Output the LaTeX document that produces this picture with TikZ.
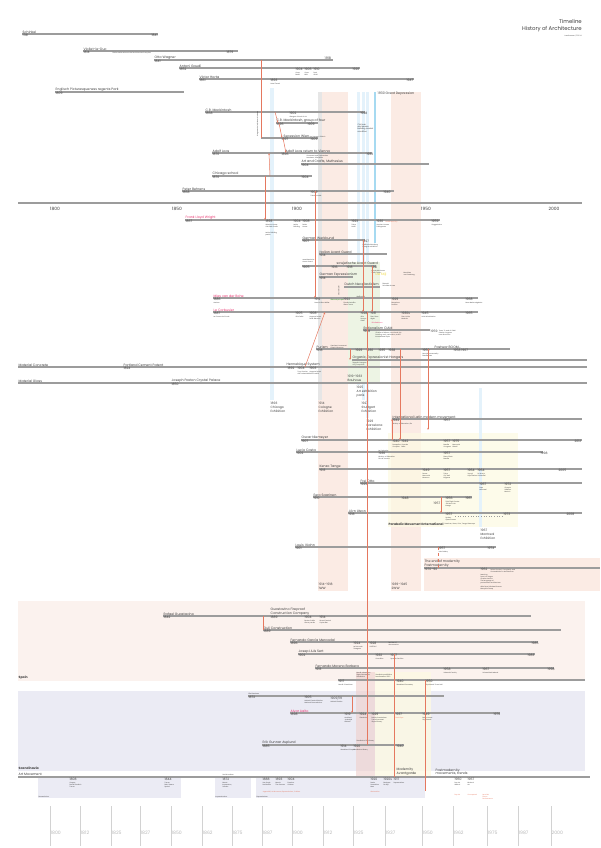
\documentclass[tikz,border=0pt]{standalone}
\usepackage{fontspec}
\setmainfont{Poppins}
\usetikzlibrary{arrows.meta}
\tikzset{>=Stealth}

\definecolor{linegray}{HTML}{9C9C9C}
\definecolor{textgray}{HTML}{3C3C3C}
\definecolor{arrowred}{HTML}{E5785F}
\definecolor{pinkname}{HTML}{E8336E}
\definecolor{peach}{HTML}{FBEBE4}
\definecolor{skyband}{HTML}{E4F2FB}
\definecolor{skyline}{HTML}{A6DAF1}
\definecolor{grayband}{HTML}{E6E6E6}
\definecolor{greenband}{HTML}{EDF4E4}
\definecolor{yellowband}{HTML}{FDF9E3}
\definecolor{yellowtext}{HTML}{EED63A}
\definecolor{spainbg}{HTML}{FBF2EE}
\definecolor{scandbg}{HTML}{EBEBF4}
\definecolor{bandred}{HTML}{EFCFCB}
\definecolor{tickgray}{HTML}{D2D2D2}

\tikzset{
  tl/.style={draw=linegray, line width=1.1pt},
  nm/.style={font=\fontsize{3.3}{3.8}\selectfont, text=textgray, inner sep=0.5pt, anchor=south west},
  pk/.style={nm, text=pinkname},
  yr/.style={font=\fontsize{3.1}{3.5}\selectfont, text=textgray, inner sep=0.5pt, anchor=north west},
  tiny/.style={font=\fontsize{1.6}{1.9}\selectfont, text=textgray, inner sep=0.3pt, anchor=north west, align=left},
  exh/.style={font=\fontsize{3.1}{3.8}\selectfont, text=textgray, inner sep=0.5pt, anchor=north west, align=left},
  sect/.style={font=\bfseries\fontsize{3.1}{3.5}\selectfont, text=textgray, inner sep=0.5pt, anchor=south west},
  conn/.style={draw=arrowred, line width=0.5pt, -{Stealth[length=2.2pt,width=1.6pt]}},
  link/.style={draw=arrowred, line width=0.5pt},
  axisyear/.style={font=\fontsize{4.4}{5}\selectfont, text=textgray, inner sep=0.5pt},
  ticklabel/.style={font=\fontsize{4.6}{5}\selectfont, text=black!28, inner sep=0.5pt, anchor=west},
}

% life line: [style]{id}{x start}{x end}{y}{name}{first year}
\newcommand{\life}[7][nm]{%
  \draw[tl] (#3,#5) -- (#4,#5);
  \coordinate (#2L) at (#3,#5);
  \node[#1] (#2) at (#3,#5) {#6};
  \node[yr] (#2Y) at (#3,#5) {#7};}
% event: {id}{x}{y}{year}{note}
\newcommand{\evn}[5]{%
  \node[yr] (#1) at (#2,#3) {#4};
  \node[tiny] (#1T) at (#1.south west) {#5};}

\begin{document}
\begin{tikzpicture}[x=1pt,y=-1pt]
    \useasboundingbox (0,0) rectangle (600,848);

    % bands
    \fill[peach] (318,92) rectangle (348,591);
    \fill[peach] (391,92) rectangle (421,591);
    \fill[grayband] (318,92) rectangle (322,400);
    \fill[skyband] (270,88) rectangle (274,400);
    \fill[skyband] (357,92) rectangle (360,385);
    \fill[skyband] (362,92) rectangle (365,400);
    \fill[skyband] (366,92) rectangle (369,418);
    \fill[skyline] (374,92) rectangle (376,243);
    \fill[greenband] (348,262) rectangle (380,383);
    \fill[yellowband, opacity=0.75] (388,433) rectangle (518,527);
    \fill[skyband] (479,388) rectangle (482,527);
    \fill[peach] (424,558) rectangle (600,591);
    \fill[spainbg] (18,601) rectangle (585,681);
    \fill[scandbg] (18,691) rectangle (585,771);
    \fill[bandred, opacity=0.6] (356,672) rectangle (375,776);
    \fill[yellowband, opacity=0.8] (375,672) rectangle (431,776);
    \fill[scandbg] (38,777) rectangle (181,798);
    \fill[scandbg] (215,777) rectangle (251,798);
    \fill[scandbg] (256,777) rectangle (425,798);

    % title
    \node[anchor=north east, inner sep=0pt, font=\fontsize{5.4}{6}\selectfont, text=textgray] (title) at (582,19) {Timeline};
    \node[anchor=north east, inner sep=0pt, font=\fontsize{5.4}{6}\selectfont, text=textgray] (subtitle) at (582,26) {History of Architecture};
    \node[tiny, anchor=north east] (author) at (582,35) {Lara Brunner | 17.01.24};

    % before 1900
    \life{schinkel}{22}{158}{34}{Schinkel}{1781}
    \node[yr] (schinkelE) at (151,34) {1841};
    \life{viollet}{83}{238}{51}{Viollet-le-Duc}{1814}
    \node[tiny] (violletT) at (112,52) {Dictionnaire raisonné de l'architecture française};
    \node[yr] (violletE) at (226,51) {1879};
    \life{wagner}{154}{333}{60}{Otto Wagner}{1841}
    \node[nm] (wagnerE) at (324,60) {1918};
    \life{gaudi}{179}{360}{68}{Antoni Gaudí}{1852}
    \evn{gaudiA}{295}{68}{1904}{Casa\\Batlló}
    \evn{gaudiB}{304}{68}{1906}{Casa\\Milà}
    \evn{gaudiC}{313}{68}{1910}{Park\\Güell}
    \node[yr] (gaudiE) at (352,68) {1926};
    \life{horta}{199}{414}{79}{Victor Horta}{1861}
    \evn{hortaA}{270}{79}{1893}{Hotel Tassel}
    \node[yr] (hortaE) at (406,79) {1947};
    \life{regent}{55}{184}{92}{Englisch Picturesqueness regents Park}{1809}
    \node[nm, anchor=north west] (crisis) at (377,91) {1930 Great Depression};
    \node[tiny, font=\fontsize{2}{2.4}\selectfont] (crisisT) at (357,123) {Civil war\\and severe\\building market\\condition};
    \life{mack}{205}{365}{112}{C.R. Mackintosh}{1868}
    \evn{mackA}{289}{112}{1902}{Glasgow School of Art}
    \node[yr] (mackE) at (360,112) {1928};
    \life{four}{276}{318}{123}{C.R. Mackintosh, group of four}{1896}
    \node[yr] (fourE) at (307,123) {1909};
    \draw[tl] (261,138) -- (318,138);
    \coordinate (secessionL) at (261,138);
    \node[nm] (secession) at (283,138) {Secession Wien};
    \node[tiny, anchor=south west] (secessionT) at (309,138) {Ver Sacrum, Olbrich};
    \node[yr] (secessionY) at (281,138) {1897};
    \node[yr] (secessionE) at (310,138) {1909};
    \node[tiny, rotate=90, anchor=south west] (wagnerT) at (259,137) {Wagnerschule, Wiener Moderne};
    \life{loos}{212}{372}{153}{Adolf Loos}{1870}
    \node[nm] (loosR) at (285,153) {Adolf Loos return to Vienna};
    \node[yr] (loosA) at (281,153) {1896};
    \node[tiny] (loosT) at (306,155) {Ornament und Verbrechen\\Looshaus, Villa Müller};
    \node[yr] (loosE) at (366,153) {1933};
    \life{muth}{301}{429}{164}{Art and Crafts, Muthesius}{1904}
    \life{chicago}{212}{312}{176}{Chicago school}{1870}
    \node[yr] (chicagoE) at (301,176) {1904};
    \life{behrens}{182}{394}{191}{Peter Behrens}{1868}
    \evn{behrensA}{310}{191}{1909}{Turbinenhalle}
    \node[yr] (behrensE) at (383,191) {1940};

    % axis
    \draw[draw=linegray, line width=1.5pt] (18,203) -- (582,203);
    \foreach \x/\lab in {55/1800,177/1850,297/1900,426/1950,554/2000}
      \node[axisyear] (ax\lab) at (\x,209) {\lab};

    % 20th century
    \life[pk]{flw}{185}{440}{220}{Frank Lloyd Wright}{1867}
    \evn{flwA}{265}{220}{1893}{Winslow House\\Oak Park Studio}
    \node[tiny] (flwB) at (265,232) {Larkin Building\\prairie};
    \evn{flwC}{293}{220}{1904}{Larkin\\Building}
    \evn{flwD}{302}{220}{1908}{Robie\\House}
    \evn{flwE}{351}{220}{1923}{Tokyo\\Hotel}
    \evn{flwF}{376}{220}{1930}{Usonian Houses\\Fallingwater}
    \node[tiny, text=arrowred] (flwR) at (385,220.6) {Broadacre City};
    \evn{flwG}{431}{220}{1959}{Guggenheim}
    \life{werkbund}{302}{365}{240}{German Werkbund}{1907}
    \evn{werkbundA}{362}{240}{1927}{Weißenhofsiedlung\\Stuttgart exhibition}
    \life{italy}{319}{387}{254}{Italian Avant Guard}{1914}
    \draw[tl] (302,266) -- (376,266);
    \coordinate (sovietL) at (302,266);
    \node[tiny, anchor=south west] (amerika) at (302,263) {amerikanische\\Avant Guard};
    \node[nm] (soviet) at (336,266) {sowjetische Avant Guard};
    \node[yr] (sovietY) at (302,266) {1905};
    \node[yr] (sovietA) at (331,266) {1916};
    \node[yr] (sovietB) at (346,266) {1918};
    \evn{sovietC}{371}{266}{1921}{Konstruktivismus\\Tatlin Tower}
    \life{expr}{319}{353}{277}{German Expressionism}{1914}
    \node[nm, text=yellowtext] (stijl) at (375,277) {De Stijl};
    \node[tiny] (stijlT) at (403,272) {Mondrian\\van Doesburg};
    \node[tiny, rotate=90, anchor=south west] (exprT) at (340,296) {Einsteinturm};
    \life{dutch}{344}{380}{287}{Dutch Neoplasticism}{}
    \node[tiny, anchor=south west] (dutchT) at (382,287) {Rietveld\\Schröder House};
    \life[pk]{mies}{213}{478}{298}{Mies van der Rohe}{1886}
    \node[tiny] (miesT) at (miesY.south west) {Aachen};
    \evn{miesA}{314}{298}{1912}{Haus Kröller-Müller}
    \node[tiny, text=green!50!black] (miesG) at (330,298.6) {Glass skyscraper};
    \evn{miesB}{343}{298}{1922}{Friedrichstraße\\Glass Tower}
    \node[tiny, anchor=south west] (miesW) at (356,298) {Weißenhof};
    \evn{miesD}{391}{298}{1929}{Barcelona\\Pavilion}
    \evn{miesE}{465}{298}{1968}{Neue Nationalgalerie}
    \life[pk]{corbu}{213}{478}{312}{Le Corbusier}{1887}
    \node[tiny] (corbuT) at (corbuY.south west) {La Chaux-de-Fonds};
    \evn{corbuA}{295}{312}{1905}{Villa Fallet}
    \evn{corbuB}{309}{312}{1908}{Auguste Perret\\Peter Behrens}
    \evn{corbuC}{360}{312}{1928}{Villa\\Savoye\\CIAM}
    \evn{corbuD}{370}{312}{1931}{Plan Obus\\Algier}
    \node[tiny, text=pinkname] (corbuR) at (371,322) {Ville Radieuse};
    \evn{corbuE}{401}{312}{1930s}{Plan Voisin\\Modulor}
    \evn{corbuF}{421}{312}{1945}{Unité d'habitation}
    \node[yr] (corbuG) at (465,312) {1965};
    \life{ciam}{363}{430}{330}{Rationalism CIAM}{1928}
    \node[tiny] (ciamN) at (375,332) {Charter of Athens, functional city\\housing, work, recreation, traffic\\International Style};
    \node[yr] (ciamA) at (430,330) {1959};
    \node[tiny] (ciamT) at (ciamA.north east) {Team 10, end of CIAM\\Otterlo congress\\new directions};
    \life{purism}{316}{510}{349}{Purism}{1918}
    \node[tiny, anchor=south west] (purismT) at (330,349) {Ozenfant, Jeanneret\\L'Esprit Nouveau};
    \node[nm] (boom) at (434,349) {Postwar BOOM...};
    \node[yr] (purismA) at (355,349) {1929};
    \node[yr] (purismB) at (366,349) {1930};
    \node[yr] (purismC) at (378,349) {1935};
    \node[yr] (purismD) at (388,349) {1938};
    \evn{purismE}{422}{349}{1950}{New Monumentality\\Brasília plan}
    \node[yr] (purismF) at (453,349) {1958 1967};
    \life{hangar}{352}{587}{360}{Organic, Expressionist Hangars}{}
    \node[tiny] (hangarT) at (352,362) {Zeppelin hangars\\Orly, Freyssinet};
    \life{concrete}{18}{587}{367}{Material Concrete}{}
    \node[nm] (portland) at (123,367) {Portland Cement Patent};
    \node[yr] (portlandY) at (123,367) {1824};
    \node[nm] (henne) at (286,367) {Hennebique System};
    \node[yr] (henneA) at (287,367) {1892};
    \evn{henneB}{297}{367}{1904}{Tony Garnier\\cité industrielle}
    \evn{henneC}{309}{367}{1903}{Auguste Perret\\Rue Franklin}
    \life{glass}{18}{587}{383}{Material Glass}{}
    \node[nm] (paxton) at (171,383) {Joseph Paxton Crystal Palace};
    \node[yr] (paxtonY) at (171,383) {1850};
    \node[exh, anchor=south west] (bauhaus) at (347,382) {1919–1933\\Bauhaus};

    % exhibitions
    \node[exh] (expoChicago) at (270,402) {1893\\Chicago\\Exhibition};
    \node[exh] (expoCologne) at (318,402) {1914\\Cologne\\Exhibition};
    \node[exh] (expoParis) at (356,386) {1925\\Art exhibition\\paris};
    \node[exh] (expoStuttgart) at (361,402) {1927\\Stuttgart\\Exhibition};
    \node[exh] (expoBarcelona) at (366,420) {1929\\Barcelona\\Exhibition};

    \life{latin}{392}{582}{419}{International Latin modern movement}{1942}
    \node[tiny] (latinT) at (latinY.south west) {Ministry of Education, Rio};
    \node[yr] (latinA) at (443,419) {1957};
    \life{niemeyer}{301}{582}{440}{Oscar Niemeyer}{1907}
    \evn{niemA}{392}{440}{1940}{Pampulha\\Complex}
    \evn{niemB}{401}{440}{1942}{Casa do\\Baile}
    \evn{niemC}{443}{440}{1957}{Brasília\\Congress}
    \evn{niemD}{452}{440}{1975}{Memorial\\Niterói}
    \node[yr] (niemE) at (574,440) {2012};
    \life{costa}{296}{543}{452}{Lucio Costa}{1902}
    \node[tiny, anchor=south west] (costaT) at (378,452) {Le Corbusier};
    \evn{costaA}{378}{452}{1936}{Ministry of Education\\Rio de Janeiro}
    \evn{costaB}{443}{452}{1957}{Plano Piloto\\Brasília}
    \node[yr] (costaE) at (540,452) {1998};
    \life{tange}{319}{582}{469}{Kenzo Tange}{1913}
    \evn{tangeA}{422}{469}{1949}{Peace\\Memorial\\Museum}
    \evn{tangeB}{443}{469}{1957}{Tokyo\\City Hall\\Kagawa}
    \evn{tangeC}{467}{469}{1964}{Yoyogi\\Gymnasium}
    \evn{tangeD}{477}{469}{1964}{St. Mary's\\Cathedral}
    \node[yr] (tangeE) at (558,469) {2005};
    \life{otto}{360}{582}{483}{Frei Otto}{1925}
    \evn{ottoA}{479}{483}{1967}{Expo\\Montreal}
    \evn{ottoB}{504}{483}{1972}{Olympic\\Stadium\\Munich}
    \life{saarinen}{313}{472}{497}{Eero Saarinen}{1910}
    \node[yr] (saarA) at (401,497) {1948};
    \evn{saarB}{445}{497}{1956}{TWA Flight Center\\JFK New York\\Kresge}
    \node[yr] (saarE) at (465,497) {1961};
    \node[yr] (saarJ) at (433,502) {1957};
    \life{utzon}{348}{582}{513}{Jörn Utzon}{1918}
    \evn{utzonA}{445}{513}{1957}{Sydney\\Opera House}
    \draw[linegray, dotted, line width=0.6pt] (455,516) -- (503,516);
    \node[yr] (utzonB) at (503,513) {1973};
    \node[yr] (utzonE) at (566,513) {2008};
    \node[sect, anchor=north west] (parabolic) at (388,522) {Parabolic Movement International};
    \node[tiny, anchor=west] (parabolicT) at (parabolic.east) {Saarinen, Utzon, Otto, Tange, Niemeyer};
    \node[exh] (expoMontreal) at (480,529) {1967\\Montreal\\Exhibition};
    \life{kahn}{295}{496}{547}{Louis I Kahn}{1901}
    \evn{kahnA}{438}{547}{1957}{Yale Gallery}
    \node[yr] (kahnE) at (487,547) {1974};
    \node[nm, anchor=north west, align=left] (postmod) at (424,559) {The end of modernity\\Postmodernity};
    \draw[tl] (424,568) -- (600,568);
    \coordinate (postL) at (424,568);
    \node[yr] (postY) at (424,568) {1970–90};
    \node[yr] (postA) at (480,568) {1962};
    \node[tiny] (postT) at (490,569) {Robert Venturi, Complexity and\\Contradiction in Architecture};
    \node[tiny] (postN) at (480,574) {Learning\\from Las Vegas\\Charles Jencks\\The language of\\postmodern architecture\\ \\Aldo Rossi, Michael Graves\\Memphis Group};
    \node[exh] (ww1) at (318,583) {1914–1918\\1WW};
    \node[exh] (ww2) at (391,583) {1939–1945\\2WW};

    % Spain
    \life{guast}{163}{531}{616}{Rafael Guastavino}{1842}
    \node[nm, align=left] (guastco) at (270,616) {Guastavino Fireproof\\Construction Company};
    \node[yr] (guastA) at (270,616) {1889};
    \evn{guastB}{304}{616}{1904}{Boston Public\\Library vaults}
    \evn{guastC}{319}{616}{1914}{Grand Central\\Oyster Bar}
    \life{guli}{263}{561}{630}{Guli Construction}{1889}
    \life{mercadal}{290}{538}{642}{Fernando García Mercadal}{1896}
    \evn{mercA}{353}{642}{1924}{La Rotonda\\Zaragoza}
    \evn{mercB}{369}{642}{1928}{GATEPAC}
    \node[tiny] (mercT) at (388,642) {Revista AC\\documentos};
    \node[yr] (mercE) at (531,642) {1985};
    \life{sert}{298}{535}{654}{Josep Lluís Sert}{1902}
    \evn{sertA}{375}{654}{1932}{Casa Bloc}
    \evn{sertB}{390}{654}{1937}{Spanish Pavilion}
    \node[yr] (sertE) at (527,654) {1983};
    \life{moreno}{315}{554}{668}{Fernando Moreno Barbera}{1913}
    \evn{morA}{443}{668}{1958}{Valencia Faculty}
    \evn{morB}{482}{668}{1967}{Universidad Laboral}
    \node[yr] (morE) at (547,668) {1998};
    \node[sect] (spain) at (18,680) {Spain};

    % Scandinavia
    \draw[tl] (338,680) -- (585,680);
    \coordinate (nordicL) at (338,680);
    \node[tiny, anchor=south west] (nordicT1) at (356,678) {Nordic classicism\\Sigurd Lewerentz\\Stockholm};
    \node[tiny, anchor=south west] (nordicT2) at (375,678) {Stockholm exhibition\\functionalism 1930};
    \evn{nordicY}{338}{680}{1917}{Nordic Classicism}
    \evn{nordicA}{396}{680}{1940}{Woodland Cemetery}
    \evn{nordicB}{425}{680}{1950}{Säynätsalo Town Hall}
    \draw[tl] (248,696) -- (444,696);
    \coordinate (elielL) at (248,696);
    \node[tiny, anchor=south west] (eliel) at (248,695.5) {Eliel Saarinen};
    \node[yr] (elielY) at (248,696) {1872};
    \evn{elielA}{304}{696}{1905}{Helsinki Central Station\\National Romanticism}
    \evn{elielB}{330}{696}{1909/19}{Helsinki Station}
    \life[pk]{aalto}{290}{500}{713}{Alvar Aalto}{1898}
    \evn{aaltoA}{344}{713}{1919}{Architect\\Jyväskylä\\Helsinki}
    \evn{aaltoB}{359}{713}{1924}{Classicism}
    \evn{aaltoC}{371}{713}{1929}{Paimio Sanatorium\\Turun Sanomat\\Viipuri Library}
    \node[yr] (aaltoD) at (395,713) {1937};
    \node[tiny, text=arrowred] (aaltoDT) at (aaltoD.south west) {Paris Expo};
    \evn{aaltoE}{422}{713}{1949}{Baker House\\Säynätsalo}
    \node[yr] (aaltoF) at (493,713) {1976};
    \node[tiny, anchor=south west] (asplT) at (356,742) {Stockholm City Library};
    \life{asplund}{262}{404}{745}{Erik Gunnar Asplund}{1885}
    \evn{asplA}{340}{745}{1914}{Woodland Chapel}
    \evn{asplB}{353}{745}{1920}{Stockholm Library}
    \node[yr] (asplE) at (396,745) {1940};
    \node[sect] (scand) at (18,770) {Scandinavia};

    % art movement
    \draw[tl] (18,777) -- (590,777);
    \coordinate (artL) at (18,777);
    \node[nm] (art) at (18,776) {Art Movement};
    \node[nm, align=left] (modern) at (396,776) {Modernity\\Avantgarde};
    \node[nm, align=left] (postmove) at (435,776) {Postmodernity\\movements, trends};
    \node[tiny, anchor=south west] (social) at (222,776) {Social realism};
    \evn{artA}{69}{778}{1808}{Caspar\\David Friedrich\\Turner}
    \evn{artB}{164}{778}{1844}{Turner\\Rain, Steam\\Speed}
    \evn{artC}{222}{778}{1872}{Monet\\Impression,\\Sunrise}
    \evn{artD}{262}{778}{1888}{Van Gogh\\Sunflowers}
    \evn{artE}{275}{778}{1893}{Munch\\The Scream}
    \evn{artF}{287}{778}{1904}{Fauvism\\Cubism}
    \node[tiny, text=arrowred] (artR1) at (262,791) {Jugendstil, Art Nouveau, Expressionism, Cubism};
    \evn{artG}{370}{778}{1920}{Dada\\Surrealism\\Merz}
    \evn{artH}{383}{778}{1920s}{Bauhaus\\De Stijl}
    \evn{artI}{393}{778}{1917}{Suprematism}
    \node[tiny, text=arrowred] (artR2) at (370,791) {Abstraction};
    \evn{artJ}{454}{778}{1960}{Pop Art\\Warhol}
    \evn{artK}{467}{778}{1967}{Minimal\\Art}
    \node[tiny, text=arrowred] (artR3) at (454,794) {Pop Art};
    \node[tiny, text=arrowred] (artR4) at (467,794) {Conceptual};
    \node[tiny, text=arrowred] (artR5) at (482,794) {Land Art\\Fluxus\\Performance};
    \node[tiny, anchor=south west] (romantik) at (38,798) {Romanticism};
    \node[tiny, anchor=south west] (impress) at (215,798) {Impressionism};
    \node[tiny, anchor=south west] (expressm) at (256,798) {Expressionism};

    % connectors
    \draw[link] (261,0 |- wagnerL) -- (261,0 |- secessionL);
    \draw[conn] (275,0 |- mackL) -- (278,0 |- fourL);
    \draw[conn] (279,0 |- fourL) -- (282,0 |- secessionL);
    \draw[conn] (283,0 |- secessionL) -- (286,0 |- loosL);
    \draw[conn] (270,0 |- chicagoL) -- (269,0 |- loosL);
    \draw[conn] (265,0 |- chicagoL) -- (265,0 |- flwL);
    \draw[conn] (315,0 |- behrensL) -- (315,0 |- miesL);
    \draw[conn] (363,0 |- werkbundL) -- (363,0 |- corbuL);
    \draw[conn] (372,0 |- sovietL) -- (372,0 |- corbuL);
    \draw[conn] (305,0 |- concreteL) -- (325,0 |- corbuL);
    \draw[conn] (350,0 |- purismL) -- (350,0 |- hangarL);
    \draw[conn] (400,0 |- purismL) -- (400,0 |- niemeyerL);
    \coordinate (boomEnd) at (428,430);
    \draw[conn] (428,0 |- purismL) -- (boomEnd);
    \draw[conn] (392,0 |- niemeyerL) -- (392,0 |- latinL);
    \draw[link] (367,0 |- corbuL) -- (367,0 |- asplundL);
    \draw[conn] (441,0 |- saarinenL) -- (441,0 |- utzonL);
    \draw[link, dashed] (438,0 |- kahnL) -- (438,0 |- postL);
    \draw[link] (263,0 |- guastL) -- (263,0 |- guliL);
    \draw[link] (394,0 |- sertL) -- (394,0 |- artL);
    \coordinate (pmEnd) at (425,791);
    \draw[link] (425,0 |- nordicL) -- (pmEnd);
    \draw[conn] (352,0 |- elielL) -- (352,0 |- aaltoL);

    % bottom scale
    \foreach \x/\lab in {50/1800,80/1812,111/1825,140/1827,171/1850,202/1862,232/1875,262/1887,292/1900,323/1912,353/1925,385/1937,422/1950,453/1962,487/1975,518/1987,551/2000}
    {
      \draw[tickgray, line width=0.5pt] (\x,806) -- (\x,846);
      \node[ticklabel] (t\lab) at (\x,833) {\lab};
    }
\end{tikzpicture}
\end{document}
